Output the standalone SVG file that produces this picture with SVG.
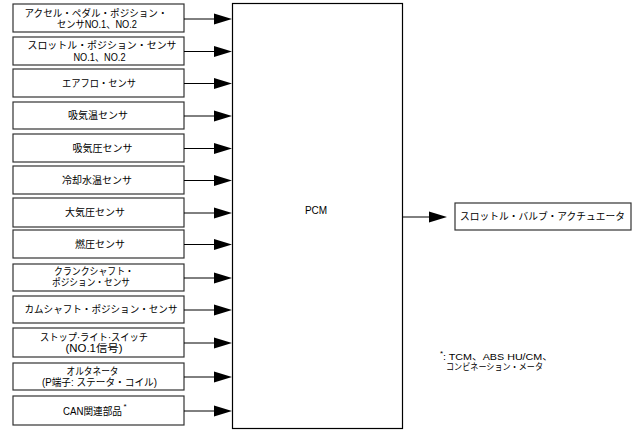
<svg xmlns="http://www.w3.org/2000/svg" width="638" height="432" viewBox="0 0 638 432">
<style>
.box{fill:#fff;stroke:#333;stroke-width:1.2}
.pcm{fill:#fff;stroke:#000;stroke-width:1.2}
.ln{stroke:#000;stroke-width:1;fill:none}
.ah{fill:#000}
text{font-family:"Liberation Sans","Noto Sans CJK JP",sans-serif;font-size:10px;fill:#000;text-anchor:middle}
.note{font-size:9px;text-anchor:start}
</style>
<defs>
<polygon id="head" points="0,-5.5 18,0 0,5.5" class="ah"/>
</defs>
<rect width="638" height="432" fill="#fff"/>
<g id="pcm">
<rect class="pcm" x="232.5" y="3.5" width="170" height="425"/>
<text x="316" y="214">PCM</text>
</g>
<g id="n1"><rect class="box" x="13" y="4" width="171" height="28"/>
<text x="96" y="16.5" textLength="143" lengthAdjust="spacingAndGlyphs">アクセル・ペダル・ポジション・</text>
<text x="97" y="28" textLength="80" lengthAdjust="spacingAndGlyphs">センサNO.1、NO.2</text></g>
<g id="n2"><rect class="box" x="13" y="37" width="171" height="28"/>
<text x="102" y="49" textLength="149" lengthAdjust="spacingAndGlyphs">スロットル・ポジション・センサ</text>
<text x="99.5" y="60.5" textLength="52" lengthAdjust="spacingAndGlyphs">NO.1、NO.2</text></g>
<g id="n3"><rect class="box" x="13" y="69" width="171" height="28"/>
<text x="99" y="86.5" textLength="74" lengthAdjust="spacingAndGlyphs">エアフロ・センサ</text></g>
<g id="n4"><rect class="box" x="13" y="102" width="171" height="27"/>
<text x="98" y="119">吸気温センサ</text></g>
<g id="n5"><rect class="box" x="13" y="134" width="171" height="28"/>
<text x="102.5" y="151.5">吸気圧センサ</text></g>
<g id="n6"><rect class="box" x="13" y="166" width="171" height="28"/>
<text x="97" y="183.5">冷却水温センサ</text></g>
<g id="n7"><rect class="box" x="13" y="198" width="171" height="29"/>
<text x="95" y="216">大気圧センサ</text></g>
<g id="n8"><rect class="box" x="13" y="230" width="171" height="28"/>
<text x="100" y="247.5">燃圧センサ</text></g>
<g id="n9"><rect class="box" x="13" y="264" width="171" height="27"/>
<text x="94" y="274.5" textLength="80" lengthAdjust="spacingAndGlyphs">クランクシャフト・</text>
<text x="91" y="285.5" textLength="78" lengthAdjust="spacingAndGlyphs">ポジション・センサ</text></g>
<g id="n10"><rect class="box" x="13" y="296" width="171" height="27"/>
<text x="101" y="313" textLength="153" lengthAdjust="spacingAndGlyphs">カムシャフト・ポジション・センサ</text></g>
<g id="n11"><rect class="box" x="13" y="328" width="171" height="29"/>
<text x="94" y="340.5" textLength="108" lengthAdjust="spacingAndGlyphs">ストップ·ライト·スイッチ</text>
<text x="94" y="352" textLength="57" lengthAdjust="spacingAndGlyphs">(NO.1信号)</text></g>
<g id="n12"><rect class="box" x="13" y="363" width="171" height="27"/>
<text x="92.5" y="374.5" textLength="52" lengthAdjust="spacingAndGlyphs">オルタネータ</text>
<text x="99.5" y="386" textLength="115" lengthAdjust="spacingAndGlyphs">(P端子: ステータ・コイル)</text></g>
<g id="n13"><rect class="box" x="13" y="396" width="171" height="29"/>
<text x="92.5" y="414.5" textLength="59" lengthAdjust="spacingAndGlyphs">CAN関連部品</text>
<text x="125" y="409" style="font-size:8px">*</text></g>
<g id="out"><rect class="box" x="455" y="203" width="176" height="27"/>
<text x="542.5" y="220" textLength="165" lengthAdjust="spacingAndGlyphs">スロットル・バルブ・アクチュエータ</text></g>
<g id="note">
<text class="note" x="440" y="356" style="font-size:8px">*</text>
<text class="note" x="443" y="360" textLength="110" lengthAdjust="spacingAndGlyphs">: TCM、ABS HU/CM、</text>
<text class="note" x="446" y="370" textLength="97" lengthAdjust="spacingAndGlyphs">コンビネーション・メータ</text>
</g>
<g id="connectors">
<path class="ln" d="M184,19H215M184,51.5H215M184,83.5H215M184,116H215M184,148.5H215M184,180.5H215M184,213H215M184,244.5H215M184,278H215M184,310H215M184,343H215M184,377H215M184,411H215M403,217H431"/>
<use href="#head" x="214" y="19"/>
<use href="#head" x="214" y="51.5"/>
<use href="#head" x="214" y="83.5"/>
<use href="#head" x="214" y="116"/>
<use href="#head" x="214" y="148.5"/>
<use href="#head" x="214" y="180.5"/>
<use href="#head" x="214" y="213"/>
<use href="#head" x="214" y="244.5"/>
<use href="#head" x="214" y="278"/>
<use href="#head" x="214" y="310"/>
<use href="#head" x="214" y="343"/>
<use href="#head" x="214" y="377"/>
<use href="#head" x="214" y="411"/>
<use href="#head" x="429" y="217"/>
</g>
</svg>
